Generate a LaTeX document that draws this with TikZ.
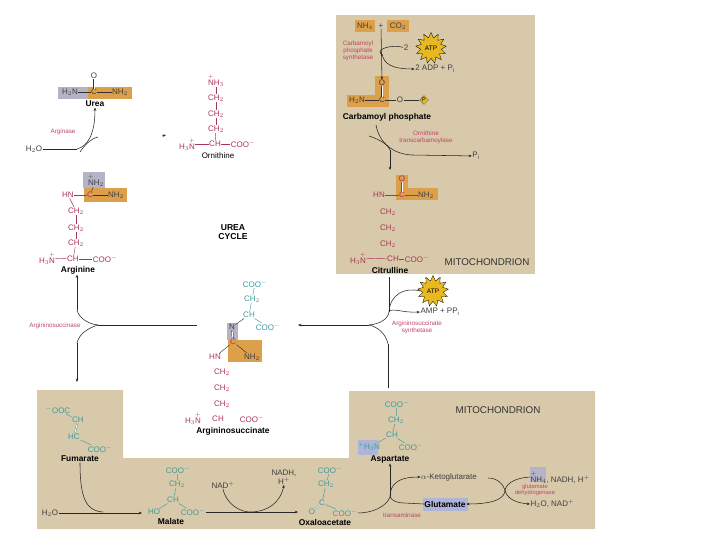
\documentclass[tikz,border=0pt]{standalone}
\usepackage{amsmath}
\usepackage{fontspec}
\setmainfont{Liberation Sans}
\usepackage{tikz}
\usetikzlibrary{arrows.meta,shapes.geometric}
\definecolor{tanbg}{HTML}{D8C9AA}
\definecolor{orangebox}{HTML}{DDA04A}
\definecolor{greybox}{HTML}{B4B4C6}
\definecolor{bluebox}{HTML}{B0B4D8}
\definecolor{redtxt}{HTML}{A83458}
\definecolor{pinktxt}{HTML}{C04468}
\definecolor{tealtxt}{HTML}{3F9A9C}
\definecolor{atpfill}{HTML}{E8B820}
\tikzset{
    atom/.style={font=\fontsize{8}{9}\selectfont, inner sep=0.4pt, text=redtxt},
    tatom/.style={font=\fontsize{8}{9}\selectfont, inner sep=0.4pt, text=tealtxt},
    katom/.style={font=\fontsize{8}{9}\selectfont, inner sep=0.4pt, text=black!75},
    title/.style={font=\bfseries\fontsize{8.4}{9}\selectfont, inner sep=0.5pt},
    enzyme/.style={font=\fontsize{6.3}{7}\selectfont, text=pinktxt, align=center, inner sep=0.5pt},
    mitolabel/.style={font=\fontsize{9.8}{10}\selectfont, inner sep=0pt, text=black!80},
    bond/.style={redtxt, line width=0.45pt},
    tbond/.style={tealtxt, line width=0.45pt},
    kbond/.style={black!80, line width=0.45pt},
    arrowline/.style={black!85, line width=0.55pt, -{Stealth[length=3.2pt,width=2.6pt]}},
    plainline/.style={black!85, line width=0.55pt},
    atpstar/.style={star, star points=13, star point ratio=1.5, draw=black, line width=0.3pt, fill=atpfill,
        minimum size=31pt, inner sep=0pt, font=\fontsize{6.5}{7}\selectfont},
}
\begin{document}
\begin{tikzpicture}[x=1pt,y=-1pt]
    \useasboundingbox (0,0) rectangle (720,540);

    % Backgrounds
    \fill[tanbg] (336,15) rectangle (535,274);
    \fill[tanbg] (37,390) -- (123,390) -- (123,458) -- (349,458) -- (349,391) -- (595,391) -- (595,529) -- (37,529) -- cycle;

    % Boxes
    \fill[orangebox] (355,20) rectangle (375,32);
    \fill[orangebox] (387,20) rectangle (409,32);
    \fill[orangebox] (375,76) rectangle (389,107);
    \fill[orangebox] (347,95) rectangle (389,107);
    \fill[orangebox] (396,175) rectangle (408,190);
    \fill[orangebox] (396,188) rectangle (438,200);
    \fill[greybox] (58,87) rectangle (88,99);
    \fill[orangebox] (88,87) rectangle (132,99);
    \fill[greybox] (83,172) rectangle (105,188);
    \fill[orangebox] (84,188) rectangle (127,202);
    \fill[greybox] (227,323) rectangle (238,340);
    \fill[orangebox] (228,340) rectangle (262,362);
    \fill[bluebox] (358,440) rectangle (378,455);
    \fill[bluebox] (423,498) rectangle (468,511);
    \fill[greybox] (530,467) rectangle (546,482);

    % Carbamoyl phosphate
    \node[katom] (nh4) at (365,26) {NH$_4$};
    \node[katom] (plus) at (381,26) {+};
    \node[katom] (co2) at (398,26) {CO$_2$};
    \node[enzyme] (cps) at (358,51) {Carbamoyl\\phosphate\\synthetase};
    \node[katom] (two) at (406,48) {2};
    \node[atpstar] (atpa) at (431,48) {ATP};
    \node[katom] (adp) at (435,69) {2 ADP + P$_{\mathrm{i}}$};
    \node[katom] (cpo) at (382,83) {O};
    \node[katom] (cpc) at (382,100) {C};
    \node[katom] (cpn) at (357,100) {H$_2$N};
    \node[katom] (cpo2) at (400,100) {O};
    \node[diamond, draw=black!70, line width=0.3pt, fill=atpfill, inner sep=0.4pt, font=\fontsize{5.5}{6}\selectfont] (cpp) at (424,100) {P};
    \node[title] (cplabel) at (387,117) {Carbamoyl phosphate};
    \draw[kbond, double, double distance=0.8pt] (cpo) -- (cpc);
    \draw[kbond] (cpn) -- (cpc);
    \draw[kbond] (cpc) -- (cpo2);
    \draw[kbond] (cpo2) -- (cpp);
    \coordinate (cpstem) at (382,54);
    \draw[arrowline] (plus) -- (cpo);
    \draw[plainline, -{Stealth[length=2pt]}] (two) .. controls (390,44) and (376,50) .. (cpstem);
    \draw[arrowline] (cpstem) .. controls (384,64) and (392,69) .. (adp.west);

    % Ornithine transcarbamoylase step
    \coordinate (otca) at (376,125);
    \coordinate (otcb) at (369,136);
    \coordinate (otcm) at (390,150);
    \coordinate (otcd) at (390,170);
    \node[enzyme] (otc) at (426,137) {Ornithine\\transcarbamoylase};
    \node[katom] (pi) at (476,156) {P$_{\mathrm{i}}$};
    \draw[plainline] (otca) .. controls (379,142) and (392,154) .. (412,155);
    \draw[arrowline] (412,155) -- (pi);
    \draw[plainline] (otcb) .. controls (378,139) and (388,144) .. (otcm);
    \draw[arrowline] (otcm) -- (otcd);

    % Citrulline
    \node[atom] (cio) at (402,179) {O};
    \node[atom] (cic) at (402,195) {C};
    \node[atom] (cihn) at (379,195) {HN};
    \node[katom] (cinh) at (426,195) {NH$_2$};
    \node[atom] (cia) at (388,212) {CH$_2$};
    \node[atom] (cib) at (388,228) {CH$_2$};
    \node[atom] (cid) at (388,244) {CH$_2$};
    \node[atom] (cin) at (358,258) {H$_3\overset{+}{\mathrm{N}}$};
    \node[atom] (cich) at (393,259) {CH};
    \node[atom] (cicoo) at (417,259) {COO$^-$};
    \node[title] (cilabel) at (390,270) {Citrulline};
    \node[mitolabel] (mitoa) at (487,262) {MITOCHONDRION};
    \draw[bond, double, double distance=0.8pt] (cio) -- (cic);
    \draw[bond] (cihn) -- (cic);
    \draw[bond] (cic) -- (cinh);
    \draw[bond] (cin) -- (cich);
    \draw[bond] (cich) -- (cicoo);

    % Argininosuccinate synthetase step
    \node[atpstar] (atpb) at (433,291) {ATP};
    \node[katom] (amp) at (440,312) {AMP + PP$_{\mathrm{i}}$};
    \node[enzyme] (ass) at (417,327) {Argininosuccinate\\synthetase};
    \coordinate (assup) at (389,277);
    \coordinate (assm) at (389,312);
    \coordinate (assj) at (369,325);
    \coordinate (assdn) at (388,344);
    \coordinate (asptop) at (388,388);
    \draw[plainline] (assup) -- (assm);
    \draw[plainline] (atpb.west) .. controls (405,287) and (390,294) .. (assm);
    \draw[arrowline] (assm) .. controls (391,307) and (402,313) .. (amp.west);
    \draw[plainline] (assm) .. controls (388,319) and (380,324) .. (assj);
    \draw[plainline] (asptop) -- (assdn);
    \draw[plainline] (assdn) .. controls (386,334) and (378,327) .. (assj);

    % Argininosuccinate
    \node[tatom] (asa) at (255,284) {COO$^-$};
    \node[tatom] (asb) at (252,299) {CH$_2$};
    \node[tatom] (asc) at (249,315) {CH};
    \node[tatom] (asd) at (268,327) {COO$^-$};
    \node[katom] (asn) at (232,327) {N};
    \node[atom] (ascc) at (233,342) {C};
    \node[atom] (ashn) at (215,357) {HN};
    \node[katom] (asnh) at (252,357) {NH$_2$};
    \node[atom] (ase) at (222,372) {CH$_2$};
    \node[atom] (asf) at (222,388) {CH$_2$};
    \node[atom] (asg) at (222,404) {CH$_2$};
    \node[atom] (ash) at (193,418) {H$_3\overset{+}{\mathrm{N}}$};
    \node[atom] (asi) at (218,419) {CH};
    \node[atom] (asj) at (252,419) {COO$^-$};
    \node[title] (aslabel) at (233,431) {Argininosuccinate};
    \draw[tbond] (asa) -- (asb);
    \draw[tbond] (asb) -- (asc);
    \draw[tbond] (asc) -- (asd);
    \draw[kbond] (asc) -- (asn);
    \draw[kbond, double, double distance=0.8pt] (asn) -- (ascc);
    \draw[kbond] (ascc) -- (ashn);
    \draw[kbond] (ascc) -- (asnh);

    % Links into and out of argininosuccinate
    \coordinate (asright) at (298,325);
    \coordinate (asleft) at (197,325);
    \draw[arrowline] (assj) -- (asright);

    % Arginine
    \node[katom] (ara) at (96,180) {$\overset{+}{\mathrm{N}}$H$_2$};
    \node[atom] (arc) at (90,195) {C};
    \node[atom] (arhn) at (68,195) {HN};
    \node[katom] (arnh) at (116,195) {NH$_2$};
    \node[atom] (are) at (76,211) {CH$_2$};
    \node[atom] (arf) at (76,228) {CH$_2$};
    \node[atom] (arg) at (76,243) {CH$_2$};
    \node[atom] (arh) at (47,258) {H$_3\overset{+}{\mathrm{N}}$};
    \node[atom] (ari) at (73,259) {CH};
    \node[atom] (arj) at (105,259) {COO$^-$};
    \node[title] (arlabel) at (78,270) {Arginine};
    \draw[kbond] (ara) -- (arc);
    \draw[bond] (arhn) -- (arc);
    \draw[kbond] (arc) -- (arnh);
    \draw[bond] (arhn) -- (are);
    \draw[bond] (are) -- (arf);
    \draw[bond] (arf) -- (arg);
    \draw[bond] (arg) -- (ari);
    \draw[bond] (arh) -- (ari);
    \draw[bond] (ari) -- (arj);

    % Argininosuccinase step
    \node[enzyme] (asl) at (55,326) {Argininosuccinase};
    \coordinate (aslj) at (98,325);
    \coordinate (aslu) at (77,310);
    \coordinate (asld) at (77,343);
    \coordinate (fumtop) at (77,382);
    \draw[plainline] (asleft) -- (aslj);
    \draw[arrowline] (aslu) -- (arlabel.south -| aslu);
    \draw[plainline] (aslu) .. controls (79,318) and (88,324) .. (aslj);
    \draw[plainline] (aslj) .. controls (88,328) and (79,334) .. (asld);
    \draw[arrowline] (asld) -- (fumtop);

    % Urea
    \node[font=\bfseries\fontsize{8.6}{9.2}\selectfont, align=center, inner sep=0pt] (cycle) at (233,232) {UREA\\CYCLE};
    \node[katom] (uo) at (94,76) {O};
    \node[katom] (uc) at (94,92) {C};
    \node[katom] (un) at (70,92) {H$_2$N};
    \node[katom] (uh) at (120,92) {NH$_2$};
    \node[title] (ulabel) at (95,104) {Urea};
    \draw[kbond, double, double distance=0.8pt] (uo) -- (uc);
    \draw[kbond] (un) -- (uc);
    \draw[kbond] (uc) -- (uh);
    \node[katom] (uw) at (34,149) {H$_2$O};
    \node[enzyme] (arginase) at (63,132) {Arginase};
    \coordinate (uj) at (77,149);
    \coordinate (ura) at (80,152);
    \coordinate (urb) at (98,137);
    \coordinate (ornin) at (162,136);
    \coordinate (ornout) at (166,135);
    \draw[plainline] (uw) -- (uj);
    \draw[arrowline] (uj) .. controls (88,146) and (95,134) .. (ulabel.south);
    \draw[plainline] (ura) .. controls (84,146) and (90,139) .. (urb);
    \draw[arrowline] (ornin) -- (ornout);

    % Ornithine
    \node[atom] (ora) at (216,80) {$\overset{+}{\mathrm{N}}$H$_3$};
    \node[atom] (orb) at (216,98) {CH$_2$};
    \node[atom] (orc) at (216,114) {CH$_2$};
    \node[atom] (ord) at (216,129) {CH$_2$};
    \node[atom] (ore) at (187,144) {H$_3\overset{+}{\mathrm{N}}$};
    \node[atom] (orf) at (215,144) {CH};
    \node[atom] (org) at (243,144) {COO$^-$};
    \node[font=\fontsize{8}{9}\selectfont, inner sep=0.5pt] (orlabel) at (218,156) {Ornithine};
    \draw[bond] (ora) -- (orb);
    \draw[bond] (orb) -- (orc);
    \draw[bond] (orc) -- (ord);
    \draw[bond] (ord) -- (orf);
    \draw[bond] (ore) -- (orf);
    \draw[bond] (orf) -- (org);

    % Fumarate
    \node[tatom] (fua) at (58,410) {$^-$OOC};
    \node[tatom] (fub) at (78,420) {CH};
    \node[tatom] (fuc) at (74,437) {HC};
    \node[tatom] (fud) at (100,449) {COO$^-$};
    \node[title] (fulabel) at (80,459) {Fumarate};
    \draw[tbond] (fua) -- (fub);
    \draw[tbond, double, double distance=0.8pt] (fub) -- (fuc);
    \draw[tbond] (fuc) -- (fud);

    % Malate
    \node[katom] (mw) at (50,513) {H$_2$O};
    \coordinate (mj) at (103,512);
    \draw[arrowline] (mw) -- (142,513);
    \draw[plainline] (fulabel.south) .. controls (80,498) and (86,511) .. (mj);
    \node[tatom] (maa) at (178,470) {COO$^-$};
    \node[tatom] (mab) at (177,484) {CH$_2$};
    \node[tatom] (mac) at (173,500) {CH};
    \node[tatom] (mad) at (154,512) {HO};
    \node[tatom] (mae) at (193,512) {COO$^-$};
    \node[title] (malabel) at (171,521) {Malate};
    \draw[tbond] (maa) -- (mab);
    \draw[tbond] (mab) -- (mac);
    \draw[tbond] (mac) -- (mad);
    \draw[tbond] (mac) -- (mae);

    % Oxaloacetate
    \node[katom] (nad) at (223,485) {NAD$^+$};
    \node[katom, align=center] (nadh) at (284,477) {NADH,\\H$^+$};
    \coordinate (oxj) at (250,512);
    \draw[arrowline] (mae) -- (298,512);
    \draw[arrowline] (nad.south) .. controls (226,504) and (240,512) .. (oxj) .. controls (266,512) and (280,504) .. (nadh.south);
    \node[tatom] (oxa) at (330,470) {COO$^-$};
    \node[tatom] (oxb) at (326,484) {CH$_2$};
    \node[tatom] (oxc) at (322,503) {C};
    \node[tatom] (oxd) at (312,512) {O};
    \node[tatom] (oxe) at (345,513) {COO$^-$};
    \node[title] (oxlabel) at (325,522) {Oxaloacetate};
    \draw[tbond] (oxa) -- (oxb);
    \draw[tbond] (oxb) -- (oxc);
    \draw[tbond, double, double distance=0.8pt] (oxc) -- (oxd);
    \draw[tbond] (oxc) -- (oxe);

    % Aspartate
    \node[mitolabel] (mitob) at (498,410) {MITOCHONDRION};
    \node[tatom] (spa) at (397,404) {COO$^-$};
    \node[tatom] (spb) at (396,420) {CH$_2$};
    \node[tatom] (spc) at (392,435) {CH};
    \node[tatom] (spd) at (369,447) {$^+$H$_3$N};
    \node[tatom] (spe) at (411,447) {COO$^-$};
    \node[title] (splabel) at (390,459) {Aspartate};
    \draw[tbond] (spa) -- (spb);
    \draw[tbond] (spb) -- (spc);
    \draw[tbond] (spc) -- (spd);
    \draw[tbond] (spc) -- (spe);

    % Transaminase and glutamate dehydrogenase
    \node[katom] (akg) at (449,477) {$\alpha$-Ketoglutarate};
    \node[title] (glu) at (445,504) {Glutamate};
    \node[enzyme] (ast) at (402,515) {transaminase};
    \node[katom, anchor=west] (nhr) at (530,477) {$\overset{+}{\mathrm{N}}$H$_4$, NADH, H$^+$};
    \node[katom, anchor=west] (wr) at (530,504) {H$_2$O, NAD$^+$};
    \node[enzyme, font=\fontsize{5.8}{6.4}\selectfont] (gdh) at (535,490) {glutamate\\dehydrogenase};
    \coordinate (tj) at (390,497);
    \coordinate (gj) at (505,490);
    \coordinate (gl) at (488,478);
    \draw[plainline] (oxe) .. controls (372,513) and (386,507) .. (tj);
    \draw[arrowline] (tj) -- (splabel.south);
    \draw[arrowline] (tj) .. controls (390,484) and (398,477) .. (akg.west);
    \draw[plainline] (glu.west) -- (404,503) .. controls (398,503) and (392,501) .. (tj);
    \draw[plainline] (gl) .. controls (496,478) and (503,483) .. (gj);
    \draw[plainline] (nhr.west) .. controls (515,478) and (507,483) .. (gj);
    \draw[arrowline] (gj) .. controls (506,497) and (514,503) .. (wr.west);
    \draw[arrowline] (gj) .. controls (505,498) and (495,504) .. (glu.east);
\end{tikzpicture}
\end{document}
